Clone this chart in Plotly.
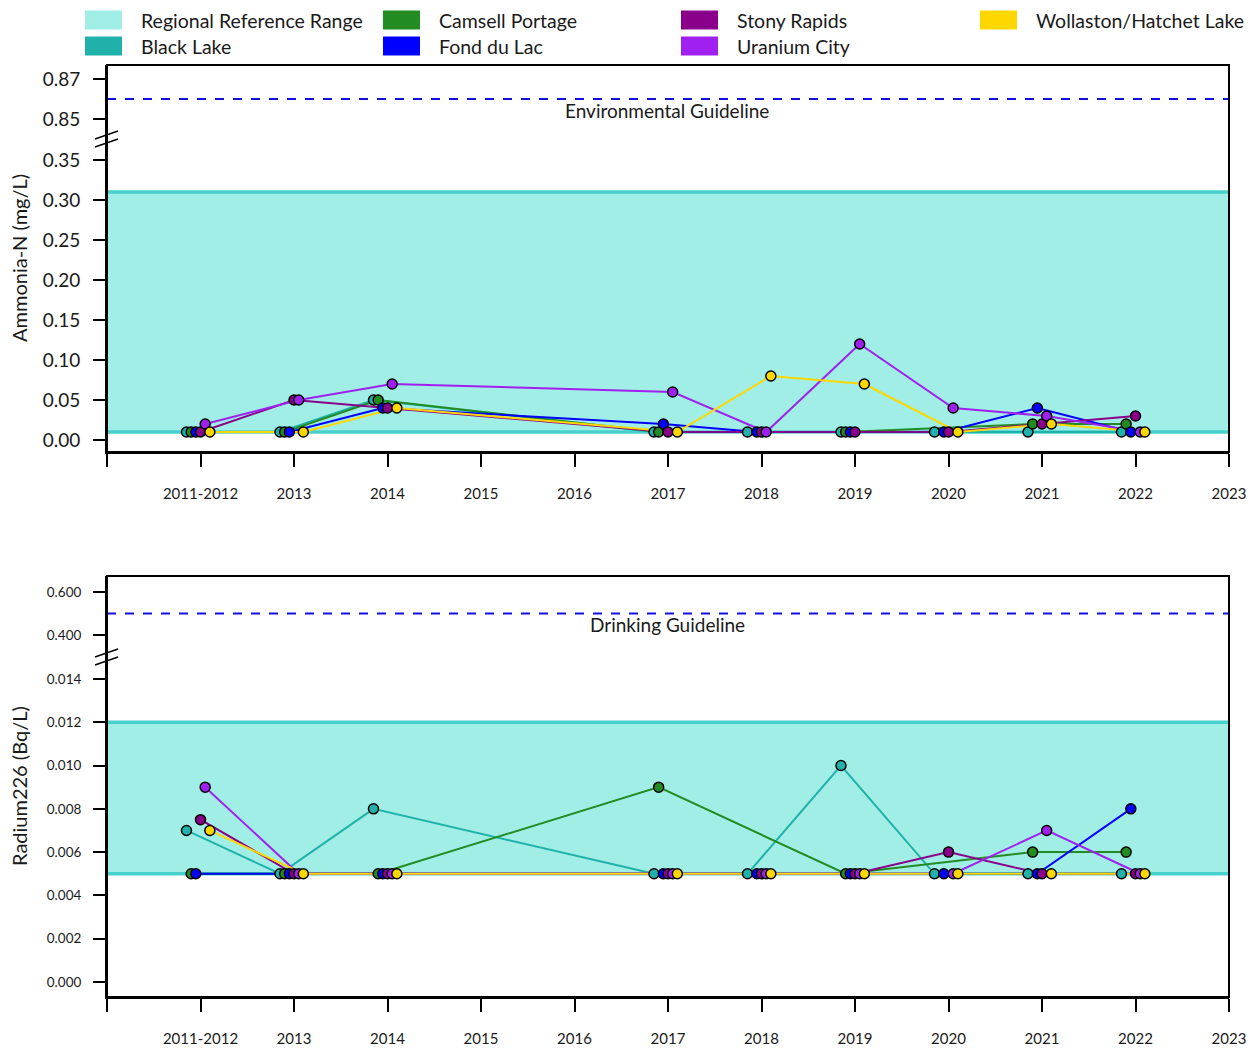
import plotly.graph_objects as go

# ---- data -------------------------------------------------------------
years = [2012, 2013, 2014, 2017, 2018, 2019, 2020, 2021, 2022]
sites = ["Black Lake", "Camsell Portage", "Fond du Lac",
         "Stony Rapids", "Uranium City", "Wollaston/Hatchet Lake"]
site_colors = ["#20B2AA", "#228B22", "#0000FF", "#8B008B", "#A020F0", "#FFD700"]

# Ammonia-N (mg/L)
ammonia_black_lake = [0.01, 0.01, 0.05, 0.01, 0.01, 0.01, 0.01, 0.01, 0.01]
ammonia_camsell    = [0.01, 0.01, 0.05, 0.01, None, 0.01, None, 0.02, 0.02]
ammonia_fond_du_lac = [0.01, 0.01, 0.04, 0.02, 0.01, 0.01, 0.01, 0.04, 0.01]
ammonia_stony      = [0.01, 0.05, 0.04, 0.01, 0.01, 0.01, 0.01, 0.02, 0.03]
ammonia_uranium    = [0.02, 0.05, 0.07, 0.06, 0.01, 0.12, 0.04, 0.03, 0.01]
ammonia_wollaston  = [0.01, 0.01, 0.04, 0.01, 0.08, 0.07, 0.01, 0.02, 0.01]

# Radium-226 (Bq/L)
radium_black_lake = [0.007, 0.005, 0.008, 0.005, 0.005, 0.010, 0.005, 0.005, 0.005]
radium_camsell    = [0.005, 0.005, 0.005, 0.009, None, 0.005, None, 0.006, 0.006]
radium_fond_du_lac = [0.005, 0.005, 0.005, 0.005, 0.005, 0.005, 0.005, 0.005, 0.008]
radium_stony      = [0.0075, 0.005, 0.005, 0.005, 0.005, 0.005, 0.006, 0.005, 0.005]
radium_uranium    = [0.009, 0.005, 0.005, 0.005, 0.005, 0.005, 0.005, 0.007, 0.005]
radium_wollaston  = [0.007, 0.005, 0.005, 0.005, 0.005, 0.005, 0.005, 0.005, 0.005]

ammonia_series = [ammonia_black_lake, ammonia_camsell, ammonia_fond_du_lac,
                  ammonia_stony, ammonia_uranium, ammonia_wollaston]
radium_series = [radium_black_lake, radium_camsell, radium_fond_du_lac,
                 radium_stony, radium_uranium, radium_wollaston]

ammonia_range = [0.01, 0.31]
radium_range = [0.005, 0.012]
ammonia_guideline = 0.86
radium_guideline = 0.5

x_ticks = list(range(2011, 2024))
x_labels = ["", "2011-2012"] + [str(y) for y in range(2013, 2024)]

# ---- layout geometry (pixels) ----------------------------------------
W, H = 1254, 1049
ML, MR, MT, MB = 107, 25, 65, 52
PW, PH = W - ML - MR, H - MT - MB


def px(xp):
    return (xp - ML) / PW


def py(yp):
    return (H - MB - yp) / PH


FONT = "Lato"
TXT = "#1a1a1a"
BAND_FILL = "#A0EEE5"
BAND_EDGE = "#48D1CC"
DODGE = 0.05

fig = go.Figure()


def add_panel(series, xaxis, yaxis):
    # lines first so every marker sits above every line
    for i, vals in enumerate(series):
        xs = [y + (i - 3) * DODGE for y in years]
        fig.add_trace(go.Scatter(
            x=xs, y=vals, mode="lines", connectgaps=True,
            line=dict(color=site_colors[i], width=2),
            xaxis=xaxis, yaxis=yaxis, showlegend=False, hoverinfo="skip"))
    for i, vals in enumerate(series):
        xs = [y + (i - 3) * DODGE for y in years]
        fig.add_trace(go.Scatter(
            x=xs, y=vals, mode="markers", name=sites[i],
            marker=dict(color=site_colors[i], size=10,
                        line=dict(color="black", width=1.5)),
            xaxis=xaxis, yaxis=yaxis, showlegend=False))


add_panel(ammonia_series, "x", "y")
add_panel(radium_series, "x2", "y3")

# ---- axes ---------------------------------------------------------------
top_bottom, top_break, top_top = py(452), py(139), py(65)
bot_bottom, bot_break, bot_top = py(997), py(657), py(576)

xcommon = dict(range=[2011, 2023], tickvals=x_ticks, ticktext=x_labels,
               ticks="outside", ticklen=13, tickwidth=2, tickcolor="black",
               showline=True, linewidth=2, linecolor="black",
               showgrid=False, zeroline=False, ticklabelstandoff=14,
               automargin=False,
               tickfont=dict(family=FONT, size=15, color=TXT))
ycommon = dict(ticks="outside", ticklen=12, tickwidth=2, tickcolor="black",
               showline=True, linewidth=2, linecolor="black",
               showgrid=False, zeroline=False, automargin=False,
               ticklabelstandoff=9)

fig.update_layout(
    xaxis=dict(domain=[0, 1], anchor="y", **xcommon),
    xaxis2=dict(domain=[0, 1], anchor="y3", **xcommon),
    yaxis=dict(domain=[top_bottom, top_break], anchor="x",
               range=[-0.015, 0.37625],
               tickvals=[0, 0.05, 0.10, 0.15, 0.20, 0.25, 0.30, 0.35],
               tickformat=".2f", tickfont=dict(family=FONT, size=19, color=TXT),
               **ycommon),
    yaxis2=dict(domain=[top_break, top_top], anchor="x",
                range=[0.84, 0.877], tickvals=[0.85, 0.87],
                tickformat=".2f", tickfont=dict(family=FONT, size=19, color=TXT),
                **ycommon),
    yaxis3=dict(domain=[bot_bottom, bot_break], anchor="x2",
                range=[-0.00069, 0.01501],
                tickvals=[0, 0.002, 0.004, 0.006, 0.008, 0.010, 0.012, 0.014],
                tickformat=".3f", tickfont=dict(family=FONT, size=13.5, color=TXT),
                **ycommon),
    yaxis4=dict(domain=[bot_break, bot_top], anchor="x2",
                range=[0.2977, 0.6744], tickvals=[0.4, 0.6],
                tickformat=".3f", tickfont=dict(family=FONT, size=13.5, color=TXT),
                **ycommon),
)

shapes = []
annotations = []

# reference range bands
for yref, (lo, hi) in (("y", ammonia_range), ("y3", radium_range)):
    xr = "x domain" if yref == "y" else "x2 domain"
    shapes.append(dict(type="rect", xref=xr, x0=0, x1=1, yref=yref, y0=lo, y1=hi,
                       fillcolor=BAND_FILL, line=dict(width=0), layer="below"))
    for v in (lo, hi):
        shapes.append(dict(type="line", xref=xr, x0=0, x1=1, yref=yref, y0=v, y1=v,
                           line=dict(color=BAND_EDGE, width=3.5), layer="below"))

# guideline lines
shapes.append(dict(type="line", xref="x domain", x0=0, x1=1, yref="y2",
                   y0=ammonia_guideline, y1=ammonia_guideline,
                   line=dict(color="#1010E0", width=2, dash="dash")))
shapes.append(dict(type="line", xref="x2 domain", x0=0, x1=1, yref="y4",
                   y0=radium_guideline, y1=radium_guideline,
                   line=dict(color="#1010E0", width=2, dash="dash")))
annotations.append(dict(text="Environmental Guideline", xref="paper", yref="paper",
                        x=px(667), y=py(110), xanchor="center", yanchor="middle",
                        showarrow=False, font=dict(family=FONT, size=19, color=TXT)))
annotations.append(dict(text="Drinking Guideline", xref="paper", yref="paper",
                        x=px(667), y=py(625), xanchor="center", yanchor="middle",
                        showarrow=False, font=dict(family=FONT, size=19, color=TXT)))

# panel frames
for y0, y1 in ((top_bottom, top_top), (bot_bottom, bot_top)):
    shapes.append(dict(type="rect", xref="paper", yref="paper",
                       x0=0, x1=1, y0=y0, y1=y1,
                       line=dict(color="black", width=2), layer="above"))

# axis break marks
for brk in (139, 657):
    for off in (-4, 4):
        shapes.append(dict(type="line", xref="paper", yref="paper",
                           x0=px(95), x1=px(118),
                           y0=py(brk + off + 4), y1=py(brk + off - 4),
                           line=dict(color="black", width=1.5)))

# y axis titles
annotations.append(dict(text="Ammonia-N (mg/L)", xref="paper", yref="paper",
                        x=px(19), y=py(258), xanchor="center", yanchor="middle",
                        textangle=-90, showarrow=False,
                        font=dict(family=FONT, size=20, color=TXT)))
annotations.append(dict(text="Radium226 (Bq/L)", xref="paper", yref="paper",
                        x=px(19), y=py(786), xanchor="center", yanchor="middle",
                        textangle=-90, showarrow=False,
                        font=dict(family=FONT, size=20, color=TXT)))

# legend (4 columns x 2 rows)
legend_items = [("Regional Reference Range", BAND_FILL)] + list(zip(sites, site_colors))
col_x = [85, 383, 681, 980]
row_y = [20, 46]
for k, (label, color) in enumerate(legend_items):
    c, r = divmod(k, 2)
    x0 = col_x[c]
    yc = row_y[r]
    shapes.append(dict(type="rect", xref="paper", yref="paper",
                       x0=px(x0), x1=px(x0 + 37), y0=py(yc + 9.5), y1=py(yc - 9.5),
                       fillcolor=color, line=dict(width=0)))
    annotations.append(dict(text=label, xref="paper", yref="paper",
                            x=px(x0 + 54), y=py(yc), xanchor="left", yanchor="middle",
                            showarrow=False,
                            font=dict(family=FONT, size=19.5, color=TXT)))

fig.update_layout(
    shapes=shapes, annotations=annotations,
    width=W, height=H,
    margin=dict(l=ML, r=MR, t=MT, b=MB, autoexpand=False),
    paper_bgcolor="white", plot_bgcolor="white",
    showlegend=False,
)

fig.write_html("out.html", include_plotlyjs=True,
               config={"displayModeBar": False})
